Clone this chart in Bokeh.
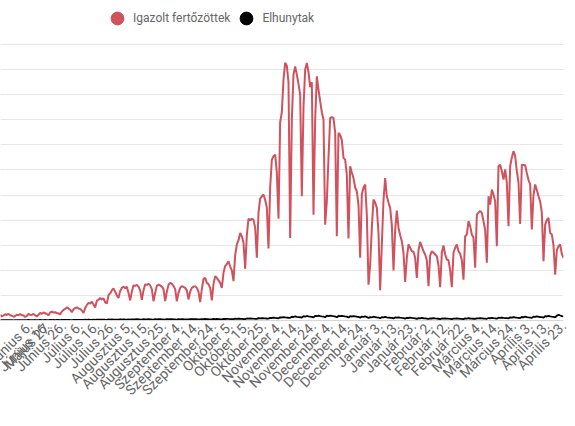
import math
from bokeh.plotting import figure
from bokeh.models import Range1d, FixedTicker, Legend, LegendItem, Grid
from bokeh.embed import file_html
from bokeh.resources import INLINE

# ---- data (daily values; index 0 = "Május 27.") ----
first_index = -8

cases = [
    230,
    160, 200, 250, 220, 260, 210, 190,
    150, 180, 230, 210, 250, 220, 200,
    140, 190, 260, 230, 220, 260, 210,
    160, 230, 300, 270, 320, 290, 260,
    210, 320, 350, 320, 330, 300, 280,
    250, 360, 420, 460, 520, 480, 430,
    330, 450, 500, 520, 480, 460, 400,
    300, 500, 620, 700, 680, 750, 640,
    520, 790, 820, 900, 840, 880, 720,
    680, 1010, 1080, 1200, 1280, 1150, 1000,
    900, 1180, 1300, 1350, 1290, 1340, 1100,
    800, 1150, 1400, 1380, 1420, 1350, 1200,
    820, 1200, 1440, 1420, 1460, 1400, 1250,
    770, 1100, 1380, 1430, 1400, 1350, 1250,
    770, 1150, 1420, 1500, 1460, 1380, 1250,
    770, 1100, 1300, 1370, 1340, 1300, 1200,
    840, 1150, 1300, 1350, 1370, 1300, 1150,
    730, 1250, 1650, 1700, 1500, 1450, 1300,
    800, 1450, 1770, 1700, 1600, 1500,
    1300, 1900, 2170, 2250, 2360, 2150, 2000,
    1570, 2600, 3030, 3200, 3490, 3350, 3100,
    2060, 3400, 4060, 4000, 4050, 4020, 3700,
    2500, 4300, 4860, 4950, 5020, 4800, 4500,
    2870, 5300, 6400, 6550, 6610, 5900,
    4060, 7900, 8300, 9600, 10270, 10150, 9500,
    3290, 8000, 9800, 10130, 9800, 9430, 9000,
    4950, 8500, 10000, 10265, 9900, 9300, 9500,
    4220, 8000, 9730, 9200, 8740, 8300, 8000,
    3820, 4750, 6500, 8070, 8100, 8070, 7500,
    3360, 7480, 7400, 7200, 6480, 6410, 5800,
    3270, 6150, 5900, 5680, 5300, 5150, 4600,
    2500, 5020, 5300, 5420, 4220,
    1430, 2230, 3700, 4820, 4700, 4490, 3500,
    1210, 3030, 4800, 5680, 4950, 4700, 4490, 3800,
    1990, 3600, 4380, 3700, 3400, 3160, 2700,
    1540, 2500, 3030, 2900, 2760, 2740, 2500,
    1700, 2800, 3130, 2950, 2760, 2630, 2400,
    1370, 2600, 2760, 2700, 2630, 2560, 2200,
    1330, 2700, 2990, 2630, 2430, 2400, 2000,
    1330, 2700, 2900, 3030, 2760, 2660, 2400,
    1630, 3360, 3430, 3960, 3760, 3430, 3300,
    2100, 4220, 4300, 4360, 4290, 3960, 3600,
    2300, 4950, 4620, 5220, 5020, 4750,
    2960, 6150, 6210, 5950, 5620, 6020, 5500,
    3760, 6150, 6500, 6750, 6550, 5950, 5500,
    3850, 6210, 6200, 6190, 5880, 5600, 5420,
    3630, 5000, 5420, 5200, 4950, 4750, 4300,
    2360, 3820, 4000, 4090, 3490, 3430, 3000,
    1830, 2800, 2960, 3030, 2650, 2500,
]

deaths = [
    12,
    10, 14, 18, 12, 15, 11, 16,
    9, 13, 17, 14, 12, 18, 15,
    10, 14, 20, 16, 13, 17, 19,
    12, 18, 21, 17, 15, 20, 16,
    14, 22, 19, 24, 18, 21, 20,
    16, 23, 25, 21, 26, 22, 19,
    18, 27, 24, 22, 28, 25, 21,
    20, 30, 27, 33, 29, 26, 31,
    24, 35, 32, 38, 30, 34, 29,
    27, 40, 36, 42, 35, 38, 33,
    30, 44, 39, 46, 41, 37, 43,
    32, 48, 45, 41, 50, 44, 39,
    35, 52, 47, 44, 55, 48, 42,
    37, 50, 46, 53, 49, 45, 41,
    38, 54, 49, 56, 51, 46, 43,
    36, 52, 48, 55, 50, 47, 44,
    40, 55, 51, 58, 53, 49, 46,
    42, 57, 53, 60, 55, 51, 48,
    44, 60, 56, 63, 58, 52,
    47, 64, 60, 68, 62, 58, 55,
    52, 72, 66, 75, 69, 64, 60,
    58, 80, 74, 85, 78, 72, 68,
    65, 92, 86, 98, 90, 84, 79,
    75, 108, 100, 115, 106, 98,
    90, 128, 120, 137, 125, 118, 110,
    105, 150, 140, 162, 148, 138, 130,
    118, 170, 158, 180, 165, 152, 145,
    125, 185, 170, 192, 176, 164, 158,
    130, 190, 178, 198, 182, 170, 160,
    128, 182, 170, 188, 175, 163, 155,
    120, 170, 160, 178, 165, 150, 142,
    112, 158, 148, 165, 140,
    98, 135, 128, 150, 138, 125, 118,
    90, 130, 122, 140, 128, 118, 110, 105,
    85, 120, 112, 128, 115, 105, 98,
    75, 108, 100, 115, 102, 95, 88,
    68, 95, 88, 102, 90, 84, 78,
    60, 85, 80, 92, 82, 76, 70,
    58, 80, 75, 88, 78, 72, 68,
    56, 78, 72, 85, 76, 70, 66,
    58, 82, 76, 90, 80, 74, 70,
    62, 88, 82, 95, 86, 80, 75,
    68, 98, 90, 105, 95, 88,
    75, 110, 102, 118, 106, 98, 92,
    85, 125, 116, 132, 120, 112, 105,
    95, 140, 130, 150, 136, 126, 118,
    105, 155, 145, 165, 150, 140, 132,
    115, 170, 160, 180, 165, 155, 148,
    125, 190, 230, 200, 175, 160,
]

tick_labels = [
    "Május 27.", "Június 6.", "Június 16.", "Június 26.", "Július 6.",
    "Július 16.", "Július 26.", "Augusztus 5.", "Augusztus 15.", "Augusztus 25.",
    "Szeptember 4.", "Szeptember 14.", "Szeptember 24.", "Október 5.", "Október 15.",
    "Október 25.", "November 4.", "November 14.", "November 24.", "December 4.",
    "December 14.", "December 24.", "Január 3.", "Január 13.", "Január 23.",
    "Február 2.", "Február 12.", "Február 22.", "Március 4.", "Március 14.",
    "Március 24.", "Április 3.", "Április 13.", "Április 23.",
]
tick_step = 10

series_names = ["Igazolt fertőzöttek", "Elhunytak"]
grid_values = list(range(0, 11001, 1000))

RED = "#d0525d"
BLACK = "#000000"

x_cases = list(range(first_index, first_index + len(cases)))
x_deaths = list(range(first_index, first_index + len(deaths)))

p = figure(width=575, height=426, output_backend="svg", toolbar_location=None,
           x_range=Range1d(-7.8, 330), y_range=Range1d(0, 12754),
           y_axis_location=None,
           min_border_left=0, min_border_top=0, min_border_right=12, min_border_bottom=106)
p.outline_line_color = None
p.background_fill_color = "white"
p.border_fill_color = "white"

# grid
ygrids = p.ygrid
if len(ygrids) == 0:
    p.add_layout(Grid(dimension=1, ticker=FixedTicker(ticks=grid_values),
                      grid_line_color="#e6e6e6", grid_line_width=1))
else:
    for g in ygrids:
        g.ticker = FixedTicker(ticks=grid_values)
        g.grid_line_color = "#e6e6e6"
        g.grid_line_width = 1
p.xgrid.visible = False

r_cases = p.line(x_cases, cases, line_color=RED, line_width=2)
r_deaths = p.line(x_deaths, deaths, line_color=BLACK, line_width=1.8)

# legend-only circle markers (placed outside the visible range)
s_cases = p.scatter(x=[-1000], y=[-1000], marker="circle", size=14, fill_color=RED, line_color=RED)
s_deaths = p.scatter(x=[-1000], y=[-1000], marker="circle", size=14, fill_color=BLACK, line_color=BLACK)

legend = Legend(items=[LegendItem(label=series_names[0], renderers=[s_cases]),
                       LegendItem(label=series_names[1], renderers=[s_deaths])],
                orientation="horizontal", location=(101, 286), padding=0, margin=0,
                spacing=0, glyph_width=32, glyph_height=32, label_standoff=0,
                background_fill_alpha=0, border_line_color=None,
                label_text_font="Roboto", label_text_font_size="12px",
                label_text_color="#666666")
p.add_layout(legend)

ax = p.xaxis[0]
ticks = [i * tick_step for i in range(len(tick_labels))]
ax.ticker = FixedTicker(ticks=ticks)
ax.major_label_overrides = {t: lab for t, lab in zip(ticks, tick_labels)}
ax.major_label_orientation = math.pi / 4
ax.major_tick_line_color = None
ax.minor_tick_line_color = None
ax.major_tick_out = 0
ax.major_label_standoff = 3
ax.axis_line_color = "#d6d6d6"
ax.major_label_text_font = "Roboto"
ax.major_label_text_font_size = "14px"
ax.major_label_text_color = "#666666"

open("out.html", "w").write(file_html(p, INLINE))
